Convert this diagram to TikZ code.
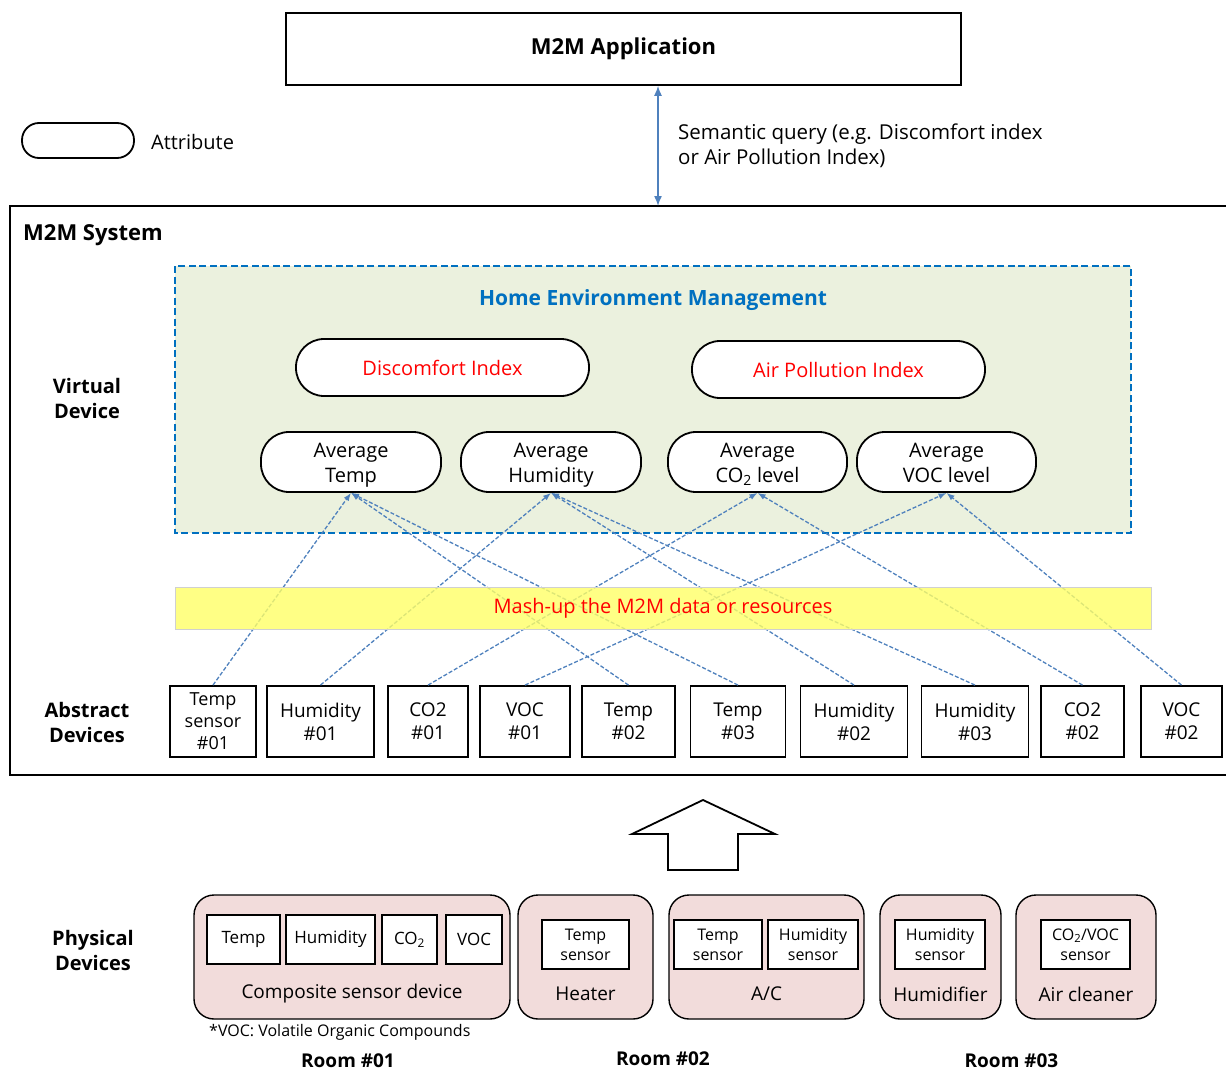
\documentclass[tikz,border=0pt]{standalone}
\usepackage{fontspec}
\setmainfont{Open Sans}
\usetikzlibrary{arrows.meta}
\definecolor{arrowblue}{HTML}{4F81BD}
\definecolor{hemblue}{HTML}{0070C0}
\definecolor{hemfill}{HTML}{EBF1DE}
\definecolor{mashyellow}{HTML}{FFFF66}
\definecolor{devpink}{HTML}{F2DCDB}
\definecolor{bandgray}{HTML}{D0D0D0}
\newcommand{\fsz}[2]{\fontsize{#1}{#2}\selectfont}
\begin{document}
\begin{tikzpicture}[x=1pt,y=-1pt,
  lbl/.style={inner sep=0pt, font=\fsz{20}{25}},
  blbl/.style={inner sep=0pt, align=center, font=\fsz{20}{25}\bfseries},
  pill/.style={draw, line width=1.8pt, fill=white, rounded corners=28pt, inner sep=0pt,
    minimum height=#1, align=center, font=\fsz{20}{25}},
  pill/.default=60pt,
  avgpill/.style={pill, text height=44pt, text depth=4pt},
  absbox/.style={draw, line width=1.8pt, fill=white, inner sep=0pt, minimum height=71pt,
    align=center, font=\fsz{19}{23}},
  devbox/.style={draw, line width=1.4pt, fill=devpink, rounded corners=20pt, minimum height=124pt, inner sep=0pt},
  senbox/.style={draw, line width=1.4pt, fill=white, minimum height=49pt, inner sep=0pt, align=center, font=\fsz{16}{20}},
  conn/.style={draw=arrowblue, line width=1.3pt, dash pattern=on 4pt off 2pt,
    -{Latex[length=8pt,width=6pt]}},
]
\useasboundingbox (0,0) rectangle (1226,1073);

% M2M application
\node[draw, line width=1.6pt, minimum width=675pt, minimum height=72pt, inner sep=0pt,
  font=\fsz{22}{26}\bfseries] (app) at (623.5,49) {M2M Application};

% legend
\node[pill=35pt, rounded corners=17pt, minimum width=112pt] (legend) at (78,140.5) {};
\node[lbl, anchor=west] (legendtxt) at (151,141.5) {Attribute};

% M2M system frame
\draw[line width=2.6pt] (1226,206) -- (10,206) -- (10,775) -- (1226,775);
\coordinate (qtop) at (658,206);
\draw[arrowblue, line width=1.5pt, {Latex[length=10pt,width=8pt]}-{Latex[length=10pt,width=8pt]}]
  (app.south -| qtop) -- (qtop);
\node[lbl, anchor=west, align=left, font=\fsz{20.5}{25}] (query) at (678,146)
  {Semantic query (e.g. Discomfort index\\or Air Pollution Index)};
\node[inner sep=0pt, anchor=west, font=\fsz{22}{26}\bfseries] (systitle) at (23,235) {M2M System};

% home environment management
\draw[hemblue, fill=hemfill, line width=2.4pt, dash pattern=on 7pt off 3.5pt]
  (175,266) rectangle (1131,533);
\node[inner sep=0pt, text=hemblue, font=\fsz{21}{25}\bfseries] (hem) at (653,300) {Home Environment Management};

\node[pill=57pt, minimum width=293pt, text=red] (disc) at (442.5,367.5) {Discomfort Index};
\node[pill=57pt, minimum width=293pt, text=red] (api) at (838.5,369.5) {Air Pollution Index};

\node[avgpill, minimum width=180pt] (avgT) at (351,462) {Average\\Temp};
\node[avgpill, minimum width=180pt] (avgH) at (551,462) {Average\\Humidity};
\node[avgpill, minimum width=179pt] (avgC) at (757.5,462) {Average\\CO\textsubscript{2} level};
\node[avgpill, minimum width=179pt] (avgV) at (946.5,462) {Average\\VOC level};

% left labels
\node[blbl] (vdev) at (87,398) {Virtual\\Device};
\node[blbl] (adev) at (87,722) {Abstract\\Devices};
\node[blbl] (pdev) at (93,950) {Physical\\Devices};

% abstract devices
\node[absbox, minimum width=86pt, font=\fsz{18}{22}] (ts01) at (213,721.5) {Temp\\sensor\\\#01};
\node[absbox, minimum width=107pt] (h01) at (320.5,721.5) {Humidity\\\#01};
\node[absbox, minimum width=80pt] (c01) at (428,721.5) {CO2\\\#01};
\node[absbox, minimum width=90pt] (v01) at (525,721.5) {VOC\\\#01};
\node[absbox, minimum width=93pt] (t02) at (628.5,721.5) {Temp\\\#02};
\node[absbox, minimum width=95pt] (t03) at (738,721.5) {Temp\\\#03};
\node[absbox, minimum width=107pt] (h02) at (854,721.5) {Humidity\\\#02};
\node[absbox, minimum width=107pt] (h03) at (975,721.5) {Humidity\\\#03};
\node[absbox, minimum width=83pt] (c02) at (1082.5,721.5) {CO2\\\#02};
\node[absbox, minimum width=81pt] (v02) at (1181.5,721.5) {VOC\\\#02};

% connectors
\draw[conn] (ts01.north) -- (avgT.south);
\draw[conn] (t02.north) -- (avgT.south);
\draw[conn] (t03.north) -- (avgT.south);
\draw[conn] (h01.north) -- (avgH.south);
\draw[conn] (h02.north) -- (avgH.south);
\draw[conn] (h03.north) -- (avgH.south);
\draw[conn] (c01.north) -- (avgC.south);
\draw[conn] (c02.north) -- (avgC.south);
\draw[conn] (v01.north) -- (avgV.south);
\draw[conn] (v02.north) -- (avgV.south);

% mash-up band (semi-transparent, over the connectors)
\node[draw=bandgray, line width=0.6pt, fill=mashyellow, fill opacity=0.8, text opacity=1,
  minimum width=976pt, minimum height=42pt, inner sep=0pt, text=red, font=\fsz{20}{24}]
  (mash) at (663,608) {Mash-up the M2M data or resources};

% big hollow arrow
\draw[line width=1.8pt, line join=miter, fill=white]
  (703,800) -- (775,834) -- (738,834) -- (738,870) -- (668,870) -- (668,834) -- (632,834) -- cycle;

% physical devices
\node[devbox, minimum width=316pt] (comp) at (352,957) {};
\node[devbox, minimum width=135pt] (heater) at (585.5,957) {};
\node[devbox, minimum width=195pt] (ac) at (766.5,957) {};
\node[devbox, minimum width=121pt] (humid) at (940.5,957) {};
\node[devbox, minimum width=140pt] (aircl) at (1086,957) {};

\node[senbox, minimum width=73pt, font=\fsz{17}{21}] (sT) at (243.5,939.5) {Temp};
\node[senbox, minimum width=89pt, font=\fsz{17}{21}] (sH) at (330.5,939.5) {Humidity};
\node[senbox, minimum width=55pt, font=\fsz{17}{21}] (sC) at (409.5,939.5) {CO\textsubscript{2}};
\node[senbox, minimum width=56pt, font=\fsz{17}{21}] (sV) at (474,939.5) {VOC};
\node[senbox, minimum width=87pt] (hs) at (585.5,944.5) {Temp\\sensor};
\node[senbox, minimum width=88pt] (acT) at (718,944.5) {Temp\\sensor};
\node[senbox, minimum width=90pt] (acH) at (813,944.5) {Humidity\\sensor};
\node[senbox, minimum width=90pt] (huH) at (940,944.5) {Humidity\\sensor};
\node[senbox, minimum width=89pt] (acl) at (1085.5,944.5) {CO\textsubscript{2}/VOC\\sensor};

\node[lbl, font=\fsz{19}{23}] (compl) at (352,994) {Composite sensor device};
\node[lbl, font=\fsz{19}{23}] (heatl) at (585.5,994) {Heater};
\node[lbl, font=\fsz{19}{23}] (acl2) at (766.5,994) {A/C};
\node[lbl, font=\fsz{19}{23}] (huml) at (940.5,994) {Humidifier};
\node[lbl, font=\fsz{19}{23}] (airl) at (1086,994) {Air cleaner};

\node[lbl, anchor=west, font=\fsz{16}{20}] (vocnote) at (209,1032) {*VOC: Volatile Organic Compounds};

\node[blbl, font=\fsz{19}{23}\bfseries] (r1) at (348,1061) {Room \#01};
\node[blbl, font=\fsz{19}{23}\bfseries] (r2) at (663,1059) {Room \#02};
\node[blbl, font=\fsz{19}{23}\bfseries] (r3) at (1011.5,1061) {Room \#03};
\end{tikzpicture}
\end{document}
